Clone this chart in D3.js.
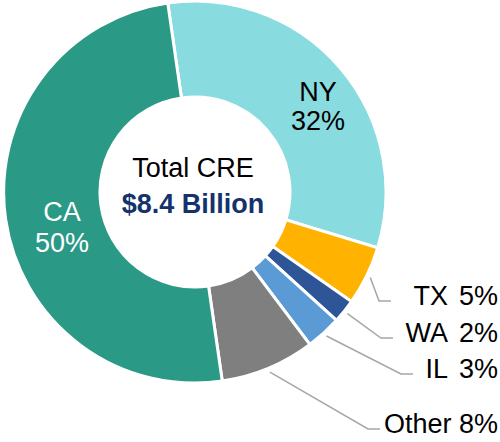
<!DOCTYPE html>
<html>
<head>
<meta charset="utf-8">
<script src="https://cdn.jsdelivr.net/npm/d3@7"></script>
<style>
  html, body { margin: 0; padding: 0; background: #fff; }
  svg { display: block; }
  text { font-family: "Liberation Sans", Arial, sans-serif; }
</style>
</head>
<body>
<svg id="chart" width="500" height="442"></svg>
<script>
// ---- data ----
const categories = ["NY", "TX", "WA", "IL", "Other", "CA"];
const values = [32, 5, 2, 3, 8, 50];
const pctLabels = ["32%", "5%", "2%", "3%", "8%", "50%"];
const colors = ["#88DBDF", "#FFB300", "#2D5597", "#5B9BD5", "#7F7F7F", "#2A9985"];
const centerTitle = "Total CRE";
const centerValue = "$8.4 Billion";

// ---- layout ----
const W = 500, H = 442;
const cx = 195, cy = 192;
const outerR = 191, innerR = 95;
const startDeg = -8.2;
const fontSize = 27;
// inside labels (NY, CA): x, baseline1, baseline2
const insideLabelPos = { "NY": [318, 101, 130], "CA": [62, 221, 252] };
// outside labels (right side): baseline y, leader line horizontal end x
const outsideLabelY = { "TX": 305, "WA": 342, "IL": 378, "Other": 433 };
const leaderEndX = { "TX": 391, "WA": 393, "IL": 413, "Other": 380 };
const labelRight = 498, nameRight = 448;

const svg = d3.select("#chart");
const g = svg.append("g").attr("transform", `translate(${cx},${cy})`);

const pie = d3.pie().sort(null).value(d => d.value)
  .startAngle(startDeg * Math.PI / 180)
  .endAngle((startDeg + 360) * Math.PI / 180);
const data = categories.map((c, i) => ({ name: c, value: values[i], pct: pctLabels[i], color: colors[i] }));
const arcs = pie(data);
const arc = d3.arc().innerRadius(innerR).outerRadius(outerR);

g.selectAll("path.slice").data(arcs).enter().append("path")
  .attr("class", "slice")
  .attr("d", arc)
  .attr("fill", d => d.data.color)
  .attr("stroke", "#fff")
  .attr("stroke-width", 3)
  .attr("stroke-linejoin", "miter");

// center text
svg.append("text").attr("x", 193).attr("y", 177).attr("text-anchor", "middle")
  .attr("font-size", fontSize).attr("fill", "#000").text(centerTitle);
svg.append("text").attr("x", 193).attr("y", 213).attr("text-anchor", "middle")
  .attr("font-size", fontSize).attr("font-weight", "bold").attr("fill", "#14326B").text(centerValue);

// inside labels
arcs.filter(a => insideLabelPos[a.data.name]).forEach(a => {
  const p = insideLabelPos[a.data.name];
  const col = a.data.name === "CA" ? "#fff" : "#000";
  svg.append("text").attr("x", p[0]).attr("y", p[1]).attr("text-anchor", "middle")
    .attr("font-size", fontSize).attr("fill", col).text(a.data.name);
  svg.append("text").attr("x", p[0]).attr("y", p[2]).attr("text-anchor", "middle")
    .attr("font-size", fontSize).attr("fill", col).text(a.data.pct);
});

// outside labels with leader lines
arcs.filter(a => outsideLabelY[a.data.name] !== undefined).forEach(a => {
  const y = outsideLabelY[a.data.name];
  const mid = (a.startAngle + a.endAngle) / 2;
  const r0 = outerR + 4;
  const sx = cx + r0 * Math.sin(mid), sy = cy - r0 * Math.cos(mid);
  const lineY = y - 4;
  if (a.data.name === "Other") {
    svg.append("text").attr("x", labelRight).attr("y", y).attr("text-anchor", "end")
      .attr("font-size", fontSize).attr("fill", "#000").text(a.data.name + " " + a.data.pct);
  } else {
    svg.append("text").attr("x", nameRight).attr("y", y).attr("text-anchor", "end")
      .attr("font-size", fontSize).attr("fill", "#000").text(a.data.name);
    svg.append("text").attr("x", labelRight).attr("y", y).attr("text-anchor", "end")
      .attr("font-size", fontSize).attr("fill", "#000").text(a.data.pct);
  }
  const endX = leaderEndX[a.data.name];
  const line = d3.line();
  svg.append("path").attr("d", line([[sx, sy], [endX - 12, lineY], [endX, lineY]]))
    .attr("fill", "none").attr("stroke", "#A6A6A6").attr("stroke-width", 1.5);
});
</script>
</body>
</html>
